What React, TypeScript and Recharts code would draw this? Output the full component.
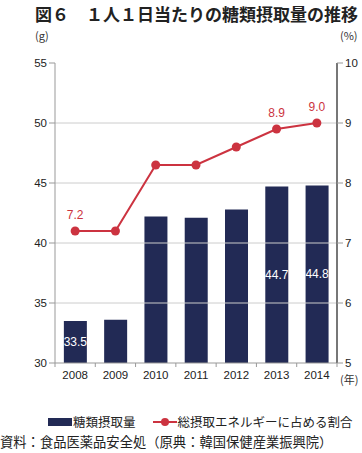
import React from 'react';
import {
  ComposedChart, Bar, Line, XAxis, YAxis, ReferenceLine, LabelList
} from 'recharts';

// 年次
const years = ['2008', '2009', '2010', '2011', '2012', '2013', '2014'];
// 糖類摂取量 (g)
const sugarIntake = [33.5, 33.6, 42.2, 42.1, 42.8, 44.7, 44.8];
// 総摂取エネルギーに占める割合 (%)
const energyShare = [7.2, 7.2, 8.3, 8.3, 8.6, 8.9, 9.0];
// 表示するラベル
const barLabels = ['33.5', '', '', '', '', '44.7', '44.8'];
const lineLabels = ['7.2', '', '', '', '', '8.9', '9.0'];
const leftTicks = [30, 35, 40, 45, 50, 55];
const rightTicks = [5, 6, 7, 8, 9, 10];
const gridValues = [35, 40, 45, 50];

const BAR_COLOR = '#222a55';
const LINE_COLOR = '#cc3340';
const FONT = '"Noto Sans CJK JP", "Noto Sans", sans-serif';
const NUM_FONT = '"Liberation Sans", Arial, sans-serif';

const chartData = years.map((y, i) => ({
  year: y,
  sugar: sugarIntake[i],
  share: energyShare[i],
  barLabel: barLabels[i],
  lineLabel: lineLabels[i],
}));

const HALF_BAND = (337 - 55) / years.length / 2;

const YearTick = (props: any) => {
  const { x, y, payload, index } = props;
  return (
    <g>
      <line x1={x - HALF_BAND} x2={x - HALF_BAND} y1={y - 8} y2={y - 4} stroke="#999" />
      {index === years.length - 1 && (
        <line x1={x + HALF_BAND} x2={x + HALF_BAND} y1={y - 8} y2={y - 4} stroke="#999" />
      )}
      <text x={x} y={y + 8} textAnchor="middle" fontSize={11.5} fill="#222" fontFamily={NUM_FONT}>
        {payload.value}
      </text>
    </g>
  );
};

const BarValue = (props: any) => {
  const { x, y, width, height, value } = props;
  if (!value) return null;
  return (
    <text x={x + width / 2} y={y + height / 2 + 4} textAnchor="middle" fontSize={12} fill="#fff" fontFamily={NUM_FONT}>
      {value}
    </text>
  );
};

const LineValue = (props: any) => {
  const { x, y, value } = props;
  if (!value) return null;
  return (
    <text x={x} y={y - 12} textAnchor="middle" fontSize={12} fill={LINE_COLOR} fontFamily={NUM_FONT}>
      {value}
    </text>
  );
};

export default function App() {
  return (
    <div style={{ position: 'absolute', left: 0, top: 0, width: 362, height: 453, background: '#fff', fontFamily: FONT, overflow: 'hidden' }}>
      <div style={{ position: 'absolute', left: 35, top: 1, fontSize: 17, fontWeight: 'bold', color: '#222', whiteSpace: 'nowrap' }}>
        図６　１人１日当たりの糖類摂取量の推移
      </div>
      <div style={{ position: 'absolute', left: 35, top: 27, fontSize: 11, color: '#333' }}>(g)</div>
      <div style={{ position: 'absolute', left: 340, top: 27, fontSize: 11, color: '#333' }}>(%)</div>
      <div style={{ position: 'absolute', left: 340, top: 371, fontSize: 11, color: '#333', whiteSpace: 'nowrap' }}>(年)</div>
      <div style={{ position: 'absolute', left: 0, top: 0 }}>
        <ComposedChart
          width={362}
          height={453}
          data={chartData}
          margin={{ top: 63, right: 0, bottom: 60, left: 0 }}
          barCategoryGap="22%"
        >
          <XAxis
            dataKey="year"
            height={30}
            axisLine={{ stroke: '#999' }}
            tickLine={false}
            tick={<YearTick />}
            interval={0}
          />
          <YAxis
            yAxisId="left"
            orientation="left"
            width={55}
            domain={[30, 55]}
            ticks={leftTicks}
            axisLine={{ stroke: '#999' }}
            tickLine={{ stroke: '#999' }}
            tick={{ fontSize: 11.5, fill: '#222', fontFamily: NUM_FONT }}
          />
          <YAxis
            yAxisId="right"
            orientation="right"
            width={25}
            domain={[5, 10]}
            ticks={rightTicks}
            axisLine={{ stroke: '#777', strokeWidth: 2 }}
            tickLine={{ stroke: '#999' }}
            tick={{ fontSize: 11.5, fill: '#222', fontFamily: NUM_FONT }}
          />
          {gridValues.map((v) => (
            <ReferenceLine key={v} yAxisId="left" y={v} stroke="#ccc" />
          ))}
          <Bar yAxisId="left" dataKey="sugar" fill={BAR_COLOR} isAnimationActive={false}>
            <LabelList dataKey="barLabel" content={<BarValue />} />
          </Bar>
          <Line
            yAxisId="right"
            dataKey="share"
            stroke={LINE_COLOR}
            strokeWidth={2}
            dot={{ r: 4.5, fill: LINE_COLOR, stroke: LINE_COLOR, strokeWidth: 0 }}
            isAnimationActive={false}
          >
            <LabelList dataKey="lineLabel" content={<LineValue />} />
          </Line>
        </ComposedChart>
      </div>
      <div style={{ position: 'absolute', left: 48, top: 412, display: 'flex', alignItems: 'center', fontSize: 12.5, color: '#222', whiteSpace: 'nowrap' }}>
        <span style={{ display: 'inline-block', width: 24, height: 8, background: BAR_COLOR, marginRight: 1 }} />
        <span>糖類摂取量</span>
        <svg width={24} height={10} style={{ marginLeft: 17, marginRight: 1 }}>
          <line x1={0} x2={24} y1={5} y2={5} stroke={LINE_COLOR} strokeWidth={2} />
          <circle cx={12} cy={5} r={4} fill={LINE_COLOR} />
        </svg>
        <span>総摂取エネルギーに占める割合</span>
      </div>
      <div style={{ position: 'absolute', left: 0, top: 432, fontSize: 13.3, color: '#222', whiteSpace: 'nowrap' }}>
        資料：食品医薬品安全処（原典：韓国保健産業振興院）
      </div>
    </div>
  );
}
